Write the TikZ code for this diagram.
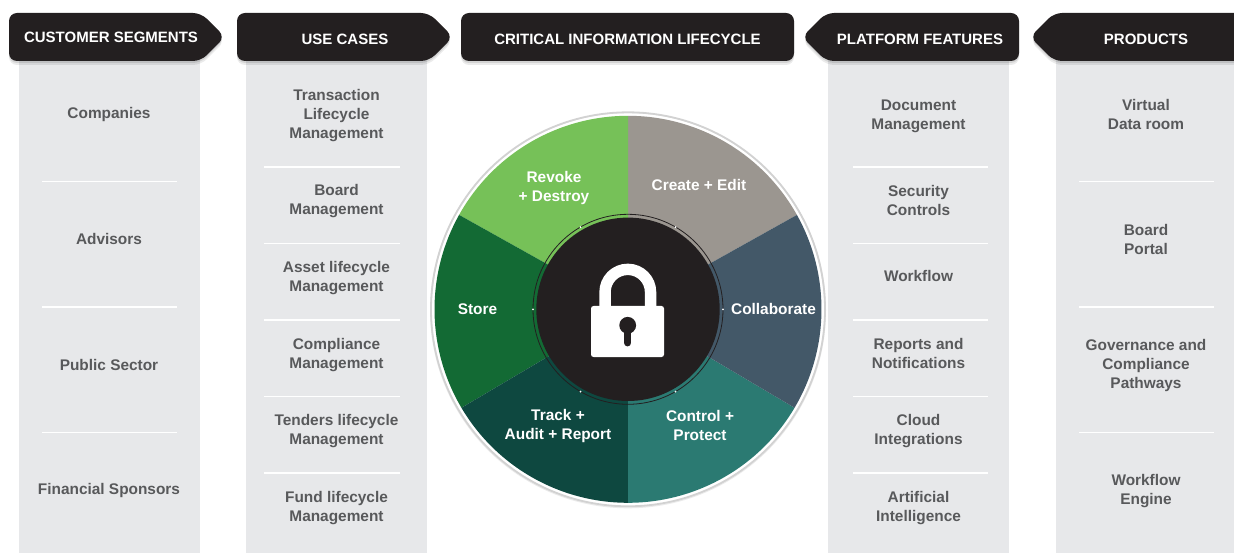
\documentclass[tikz,border=0pt]{standalone}
\usepackage{fontspec}
\usepackage{xcolor}
\setmainfont{Liberation Sans}
\usetikzlibrary{arrows.meta,positioning,calc}
\definecolor{headdark}{HTML}{231F20}
\definecolor{colgrey}{HTML}{E7E8EA}
\definecolor{itemgrey}{HTML}{58595B}
\definecolor{ringgrey}{HTML}{D2D2D2}
\definecolor{wedgecreate}{HTML}{9B9690}
\definecolor{wedgerevoke}{HTML}{76C158}
\definecolor{wedgestore}{HTML}{136A34}
\definecolor{wedgetrack}{HTML}{0E4840}
\definecolor{wedgecontrol}{HTML}{2B7A72}
\definecolor{wedgecollab}{HTML}{435868}

\begin{document}
\begin{tikzpicture}[x=1pt,y=-1pt,
    headshape/.style={fill=headdark, rounded corners=8pt,
        preaction={fill=black, opacity=.08, transform canvas={yshift=-4pt}},
        preaction={fill=black, opacity=.10, transform canvas={yshift=-2pt}}},
    headlabel/.style={text=white, font=\fontsize{15}{18}\selectfont\bfseries, inner sep=0pt},
    itemlabel/.style={text=itemgrey, align=center, font=\fontsize{15.4}{19}\selectfont\bfseries, inner sep=0pt},
    wheellabel/.style={text=white, align=center, font=\fontsize{15.4}{19}\selectfont\bfseries, inner sep=0pt},
    sepline/.style={white, line width=1.2pt}]
    \useasboundingbox (0,0) rectangle (1234,553);
    \clip (0,0) rectangle (1234,553);

    % Grey columns
    \foreach \xa/\xb in {19/200, 246/427, 828/1009, 1056/1237}
        \fill[colgrey] (\xa,55) rectangle (\xb,553);

    % Separators
    \foreach \xa/\xb in {42/177, 1079/1214}
        \foreach \yy in {181.5,307,432.5}
            \draw[sepline] (\xa,\yy) -- (\xb,\yy);
    \foreach \xa/\xb in {264/400, 853/988}
        \foreach \yy in {167,243.5,320,396.5,473}
            \draw[sepline] (\xa,\yy) -- (\xb,\yy);

    % Headers
    \path[headshape] (9,13) -- (201,13) -- (225,37) -- (201,61) -- (9,61) -- cycle;
    \path[headshape] (237,13) -- (429,13) -- (453,37) -- (429,61) -- (237,61) -- cycle;
    \path[headshape] (461,13) -- (794,13) -- (794,61) -- (461,61) -- cycle;
    \path[headshape] (1019,13) -- (826,13) -- (802,37) -- (826,61) -- (1019,61) -- cycle;
    \path[headshape] (1250,13) -- (1054,13) -- (1030,37) -- (1054,61) -- (1250,61) -- cycle;

    \node[headlabel] (headseg) at (111,37) {CUSTOMER SEGMENTS};
    \node[headlabel] (headuse) at (345,39.5) {USE CASES};
    \node[headlabel] (headlife) at (627.5,39.5) {CRITICAL INFORMATION LIFECYCLE};
    \node[headlabel] (headfeat) at (920,39.5) {PLATFORM FEATURES};
    \node[headlabel] (headprod) at (1146,39.5) {PRODUCTS};

    % Customer segments
    \node[itemlabel] (seg1) at (109,115) {Companies};
    \node[itemlabel] (seg2) at (109,239) {Advisors};
    \node[itemlabel] (seg3) at (109,364.5) {Public Sector};
    \node[itemlabel] (seg4) at (109,491) {Financial Sponsors};

    % Use cases
    \node[itemlabel] (use1) at (336.5,115.5) {Transaction\\Lifecycle\\Management};
    \node[itemlabel] (use2) at (336.5,201.5) {Board\\Management};
    \node[itemlabel] (use3) at (336.5,278) {Asset lifecycle\\Management};
    \node[itemlabel] (use4) at (336.5,355) {Compliance\\Management};
    \node[itemlabel] (use5) at (336.5,431) {Tenders lifecycle\\Management};
    \node[itemlabel] (use6) at (336.5,508) {Fund lifecycle\\Management};

    % Platform features
    \node[itemlabel] (feat1) at (918.5,116) {Document\\Management};
    \node[itemlabel] (feat2) at (918.5,200) {Security\\Controls};
    \node[itemlabel] (feat3) at (918.5,276) {Workflow};
    \node[itemlabel] (feat4) at (918.5,353) {Reports and\\Notifications};
    \node[itemlabel] (feat5) at (918.5,431) {Cloud\\Integrations};
    \node[itemlabel] (feat6) at (918.5,508) {Artificial\\Intelligence};

    % Products
    \node[itemlabel] (prod1) at (1146,114) {Virtual\\Data room};
    \node[itemlabel] (prod2) at (1146,239) {Board\\Portal};
    \node[itemlabel] (prod3) at (1146,366) {Governance and\\Compliance\\Pathways};
    \node[itemlabel] (prod4) at (1146,491.5) {Workflow\\Engine};

    % Wheel
    \begin{scope}[shift={(628,309.3)},y=1pt]
        \draw[black, opacity=.08, line width=2pt] (0,-1) circle (197);
        \fill[white] (0,0) circle (196);
        \draw[ringgrey, line width=1.8pt] (0,0) circle (197);

        \foreach \ang/\angend/\col in {29.2/90/wedgecreate, 90/150.8/wedgerevoke,
                                       150.8/210.6/wedgestore, 210.6/270/wedgetrack,
                                       270/329.4/wedgecontrol, 329.4/389.2/wedgecollab}
            \fill[\col] (0,0) -- (\ang:193.5) arc[start angle=\ang, end angle=\angend, radius=193.5] -- cycle;

        % Hub
        \draw[headdark, line width=.8pt] (0,0) circle (95);
        \fill[headdark] (0,0) circle (91.7);
        \foreach \ang in {0,60,...,300}
            \fill[white] (\ang:95) circle (1);

        % Lock
        \draw[white, line width=11.4pt] (-22.95,0) -- (-22.95,17.2)
            arc[start angle=180, end angle=0, radius=22.75] -- (22.55,0);
        \fill[white, rounded corners=2.5pt] (-37,3.3) rectangle (36,-47.7);
        \fill[headdark] (-0.3,-16) circle (8.4);
        \draw[headdark, line width=7.3pt, line cap=round] (-0.3,-18) -- (-0.3,-33.5);

        % Wheel labels
        \node[wheellabel] (create) at (71,124) {Create + Edit};
        \node[wheellabel] (revoke) at (-74,121) {Revoke\\+ Destroy};
        \node[wheellabel] (store) at (-150.5,0) {Store};
        \node[wheellabel] (track) at (-70,-117) {Track +\\Audit + Report};
        \node[wheellabel] (control) at (72,-116) {Control +\\Protect};
        \node[wheellabel] (collab) at (145.5,0) {Collaborate};
    \end{scope}
\end{tikzpicture}
\end{document}
